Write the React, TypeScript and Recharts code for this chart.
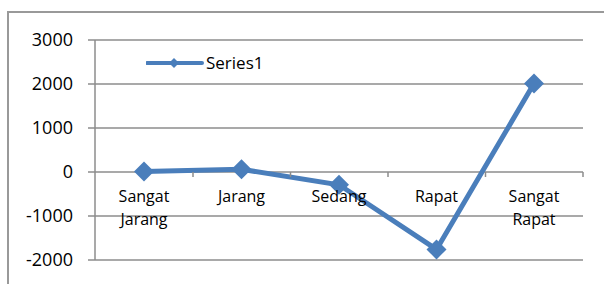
import { LineChart, Line, XAxis, YAxis, CartesianGrid, Legend } from "recharts";

const categories = ["Sangat Jarang", "Jarang", "Sedang", "Rapat", "Sangat Rapat"];
const series1 = [10, 60, -290, -1760, 2010];
const yTicks = [-2000, -1000, 0, 1000, 2000, 3000];

const data = categories.map((name, i) => ({ name, Series1: series1[i] }));

const BLUE = "#4A7EBB";
const GRID = "#8c8c8c";
const FONT = "'Open Sans', sans-serif";

// category labels sit just under the zero line, like Excel
function CategoryTick({ x, y, payload }: any) {
  const lines = String(payload.value).split(" ");
  const top = y - 58;
  return (
    <g>
      <line x1={x + 49} y1={y - 88} x2={x + 49} y2={y - 83} stroke={GRID} strokeWidth={1.5} />
      <text x={x} y={top} textAnchor="middle" fill="#000" fontSize={16} fontFamily={FONT}>
        {lines.map((l, i) => (
          <tspan key={i} x={x} dy={i === 0 ? 0 : 23}>
            {l}
          </tspan>
        ))}
      </text>
    </g>
  );
}

function Diamond({ cx, cy, index }: any) {
  const r = 10;
  return (
    <polygon
      key={index}
      points={`${cx},${cy - r} ${cx + r},${cy} ${cx},${cy + r} ${cx - r},${cy}`}
      fill={BLUE}
    />
  );
}

function LegendBox() {
  return (
    <div style={{ display: "flex", alignItems: "center", fontFamily: FONT, fontSize: 17 }}>
      <svg width={58} height={12}>
        <line x1={1} y1={6} x2={56} y2={6} stroke={BLUE} strokeWidth={4} strokeLinecap="round" />
        <polygon points="28,1 33,6 28,11 23,6" fill={BLUE} />
      </svg>
      <span style={{ marginLeft: 2 }}>Series1</span>
    </div>
  );
}

export default function App() {
  return (
    <div style={{ position: "absolute", left: 0, top: 0, width: 604, height: 284, overflow: "hidden", background: "#fff" }}>
      <div
        style={{
          position: "absolute",
          left: 7,
          top: 11,
          width: 640,
          height: 320,
          border: "2px solid #999",
        }}
      />
      <LineChart
        width={604}
        height={284}
        data={data}
        margin={{ top: 40, right: 21, left: 7, bottom: 4 }}
        style={{ position: "absolute", left: 0, top: 0 }}
      >
        <CartesianGrid vertical={false} stroke={GRID} strokeWidth={1.5} />
        <XAxis
          dataKey="name"
          height={20}
          interval={0}
          axisLine={false}
          tickLine={false}
          tickSize={0}
          tickMargin={0}
          padding={{ left: 49, right: 49 }}
          tick={(p: any) => <CategoryTick {...p} />}
        />
        <YAxis
          width={88}
          domain={[-2000, 3000]}
          ticks={yTicks}
          interval={0}
          tickSize={7}
          tickMargin={15}
          axisLine={{ stroke: GRID, strokeWidth: 1.5 }}
          tickLine={{ stroke: GRID, strokeWidth: 1.5 }}
          tick={{ fill: "#000", fontSize: 18, fontFamily: FONT }}
        />
        <Legend
          layout="horizontal"
          verticalAlign="middle"
          align="center"
          wrapperStyle={{ top: 51, left: 146, width: "auto" }}
          content={() => <LegendBox />}
        />
        <Line
          type="linear"
          dataKey="Series1"
          stroke={BLUE}
          strokeWidth={5}
          dot={Diamond}
          activeDot={false}
          isAnimationActive={false}
        />
      </LineChart>
    </div>
  );
}
